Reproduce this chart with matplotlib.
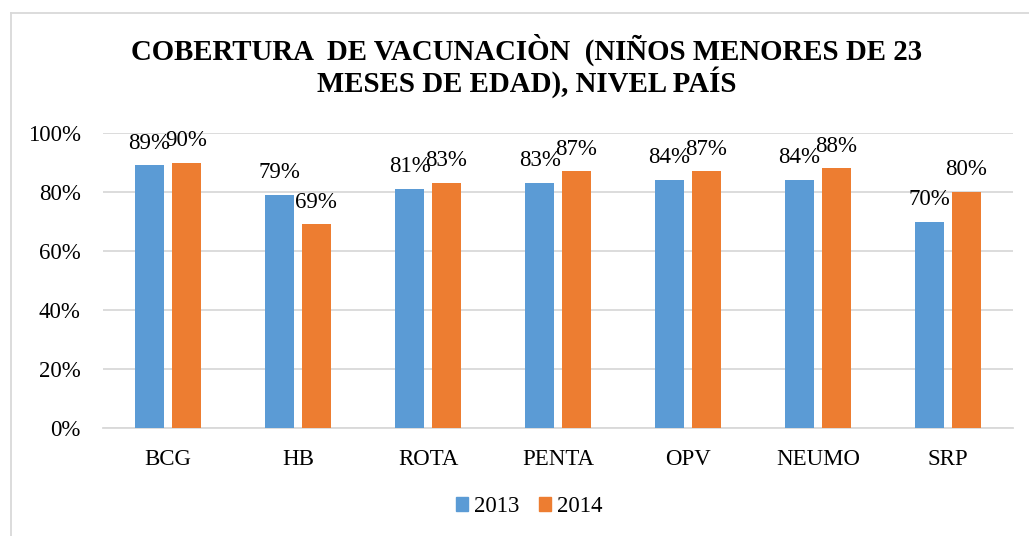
import matplotlib
matplotlib.use("Agg")
import matplotlib.pyplot as plt
from matplotlib.lines import Line2D
from matplotlib.ticker import FuncFormatter
import numpy as np

categories = ["BCG", "HB", "ROTA", "PENTA", "OPV", "NEUMO", "SRP"]
cov_2013 = [89, 79, 81, 83, 84, 84, 70]
cov_2014 = [90, 69, 83, 87, 87, 88, 80]
series_names = ["2013", "2014"]

BLUE = "#5b9bd5"
ORANGE = "#ed7d31"
GRID = "#d9d9d9"

plt.rcParams["font.family"] = ["Liberation Serif", "DejaVu Serif"]

W, H = 1029, 536
fig = plt.figure(figsize=(W / 100, H / 100), dpi=100)

# plot area in pixel terms
left_px, right_px, top_px, bottom_px = 103, 1013, 133, 428
ax = fig.add_axes([left_px / W, 1 - bottom_px / H,
                   (right_px - left_px) / W, (bottom_px - top_px) / H])

x = np.arange(len(categories))
bw = 0.223
gap = 0.06
off = (bw + gap) / 2
b1 = ax.bar(x - off, cov_2013, width=bw, color=BLUE, label=series_names[0], zorder=3)
b2 = ax.bar(x + off, cov_2014, width=bw, color=ORANGE, label=series_names[1], zorder=3)

for bars, vals in ((b1, cov_2013), (b2, cov_2014)):
    for rect, v in zip(bars, vals):
        ax.annotate(f"{v}%", (rect.get_x() + rect.get_width() / 2, v),
                    xytext=(0, 16.0), textcoords="offset points",
                    ha="center", va="center", fontsize=16.5, color="#000000",
                    zorder=4)

ax.set_xlim(-0.5, len(categories) - 0.5)
ax.set_ylim(0, 100)
ax.set_yticks(np.arange(0, 101, 20))
ax.yaxis.set_major_formatter(FuncFormatter(lambda v, p: f"{int(v)}%"))
ax.set_xticks(x)
ax.set_xticklabels(categories)
ax.tick_params(axis="both", length=0, labelsize=16.5, colors="#000000")
ax.tick_params(axis="y", pad=16)
ax.tick_params(axis="x", pad=15)
ax.yaxis.grid(True, color=GRID, linewidth=1.3, zorder=0)
ax.set_axisbelow(True)
for side in ("left", "right", "top"):
    ax.spines[side].set_visible(False)
ax.spines["bottom"].set_color(GRID)
ax.spines["bottom"].set_linewidth(1.3)

fig.text(527 / W, 1 - 60 / H, "COBERTURA  DE VACUNACIÒN  (NIÑOS MENORES DE 23",
         ha="center", va="baseline", fontsize=20.8, fontweight="bold")
fig.text(527 / W, 1 - 92 / H, "MESES DE EDAD), NIVEL PAÍS",
         ha="center", va="baseline", fontsize=20.8, fontweight="bold")

handles = [plt.Rectangle((0, 0), 1, 1, color=BLUE), plt.Rectangle((0, 0), 1, 1, color=ORANGE)]
fig.legend(handles, series_names, loc="center", bbox_to_anchor=(529 / W, 1 - 507 / H),
           ncol=2, frameon=False, fontsize=16.5, handlelength=0.55, handleheight=0.55,
           handletextpad=0.23, columnspacing=0.86, borderpad=0.2)

# chart frame
fig.add_artist(Line2D([10.5 / W, 10.5 / W], [0, 1 - 13 / H], transform=fig.transFigure,
                      color=GRID, linewidth=1.3))
fig.add_artist(Line2D([10.5 / W, 1], [1 - 13 / H, 1 - 13 / H], transform=fig.transFigure,
                      color=GRID, linewidth=1.3))

fig.savefig("out.png", dpi=100, facecolor="white")
